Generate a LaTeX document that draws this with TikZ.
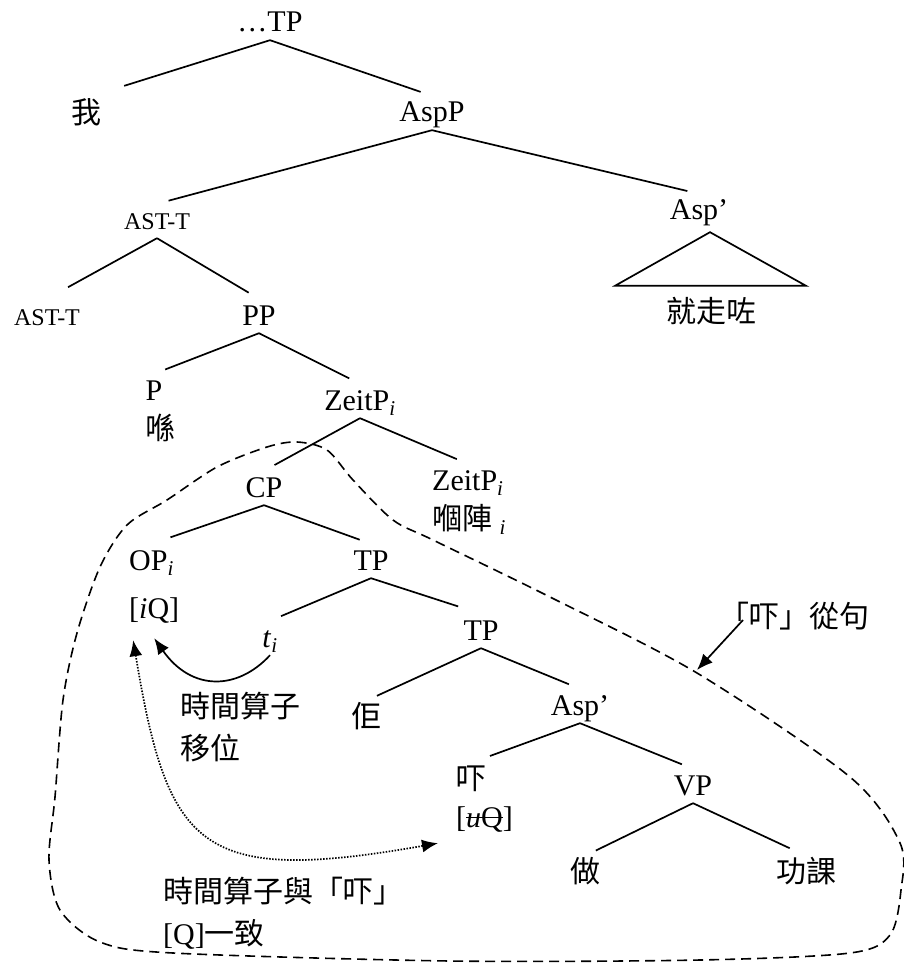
\documentclass[tikz,border=0pt]{standalone}
\usepackage{fontspec}
\setmainfont{Liberation Serif}
\newfontfamily\cjk{Noto Sans CJK TC}
\usetikzlibrary{arrows.meta}
\newcommand{\zh}[1]{{\cjk #1}}
\newsavebox{\strikebox}
\newcommand{\strikeq}[1]{\sbox{\strikebox}{#1}\rlap{\rule[0.3em]{\wd\strikebox}{1.5pt}}\usebox{\strikebox}}

\begin{document}
\begin{tikzpicture}[x=1pt,y=-1pt,>={Latex[length=16pt,width=13pt]},
	lab/.style={inner sep=0pt, text height=26pt, text depth=8pt, anchor=base, font=\fontsize{30}{42}\selectfont},
	sml/.style={lab, font=\fontsize{24}{30}\selectfont},
	note/.style={inner sep=0pt, align=left, anchor=base west, font=\fontsize{30}{42}\selectfont},
	branch/.style={line width=1.7pt, shorten >=12pt},
	boundary/.style={line width=1.6pt, dash pattern=on 10pt off 6pt}]
	\useasboundingbox (0,0) rectangle (903,965);
	%Nodi dell'albero
	\node[lab] (tp) at (270,32) {…TP};
	\node[lab] (wo) at (86,124) {\zh{我}};
	\node[lab] (aspp) at (432,122) {AspP};
	\node[sml] (astA) at (157,230) {AST-T};
	\node[lab] (aspA) at (699,220) {Asp’};
	\node[sml] (astB) at (47,325) {AST-T};
	\node[lab] (pp) at (259,325) {PP};
	\node[lab] (jz) at (711,322) {\zh{就走咗}};
	\node[lab] (p) at (154,400) {P};
	\node[lab] (hai) at (160,439) {\zh{喺}};
	\node[lab] (zA) at (360,410) {ZeitP\textsubscript{\textit{i}}};
	\node[lab] (cp) at (264,497) {CP};
	\node[lab, anchor=base west] (zB) at (432,490) {ZeitP\textsubscript{\textit{i}}};
	\node[lab, anchor=base west] (go) at (432,529) {\zh{嗰陣} \textsubscript{\textit{i}}};
	\node[lab, anchor=base west] (op) at (129,570) {OP\textsubscript{\textit{i}}};
	\node[lab, anchor=base west] (iq) at (129,618) {[\textit{i}Q]};
	\node[lab] (tpA) at (371,570) {TP};
	\node[lab] (ti) at (270,647) {\textit{t}\textsubscript{\textit{i}}};
	\node[lab] (tpB) at (481,640) {TP};
	\node[lab] (koei) at (366,727) {\zh{佢}};
	\node[lab] (aspB) at (580,715) {Asp’};
	\node[lab, anchor=base west] (ha) at (456,789) {\zh{吓}};
	\node[lab, anchor=base west] (uq) at (456,827) {[\strikeq{\textit{u}Q}]};
	\node[lab] (vp) at (693,795) {VP};
	\node[lab] (zou) at (585,882) {\zh{做}};
	\node[lab] (gk) at (806,882) {\zh{功課}};
	%Rami
	\draw[branch, shorten >=40pt] (tp.south) -- (wo.north);
	\draw[branch] (tp.south) -- (aspp.north);
	\draw[branch] (aspp.south) -- (astA.north);
	\draw[branch] (aspp.south) -- (aspA.north);
	\draw[branch, shorten >=24pt] (astA.south) -- (astB.north);
	\draw[branch] (astA.south) -- (pp.north);
	\draw[line width=1.7pt] ([xshift=11pt,yshift=-4pt]aspA.south) -- ([xshift=-96pt,yshift=10pt]jz.north) -- ([xshift=95pt,yshift=10pt]jz.north) -- cycle;
	\draw[branch] (pp.south) -- (p.north);
	\draw[branch] (pp.south) -- (zA.north);
	\draw[branch] (zA.south) -- (cp.north);
	\draw[branch] (zA.south) -- (zB.north);
	\draw[branch, shorten >=20pt] (cp.south) -- (op.north);
	\draw[branch] (cp.south) -- (tpA.north);
	\draw[branch] (tpA.south) -- (ti.north);
	\draw[branch, shorten >=24pt] (tpA.south) -- (tpB.north);
	\draw[branch] (tpB.south) -- (koei.north);
	\draw[branch] (tpB.south) -- (aspB.north);
	\draw[branch, shorten >=20pt] (aspB.south) -- (ha.north);
	\draw[branch] (aspB.south) -- (vp.north);
	\draw[branch] (vp.south) -- (zou.north);
	\draw[branch, shorten >=18pt] (vp.south) -- (gk.north);
	%Movimento e accordo
	\node[note] (move) at (180,759) {\zh{時間算子}\\\zh{移位}};
	\node[note] (agree) at (163,944) {\zh{時間算子與「吓」}\\{[Q]}\zh{一致}};
	\draw[->, line width=1.7pt] (ti.south) .. controls (238,690) and (192,692) .. ([yshift=-12pt]iq.south);
	\draw[<->, line width=1.7pt, dash pattern=on 1.5pt off 1.5pt] ([xshift=-21pt,yshift=-14pt]iq.south) .. controls (168,850) and (200,885) .. ([xshift=-18pt,yshift=-8pt]uq.south west);
	%Frase del "吓"
	\draw[boundary] plot[smooth cycle] coordinates {(127,525) (167,500) (217,467) (267,447) (297,442) (327,450) (353,480) (393,520) (433,540) (550,597) (697,673) (850,777) (900,843) (901,890) (890,935) (850,953) (700,960) (450,961) (173,953) (100,942) (60,910) (49,860) (55,797) (63,700) (77,633) (100,567)};
	\node[note] (clause) at (719,627) {\zh{「吓」從句}};
	\coordinate (hit) at (697,670);
	\draw[->, line width=1.7pt] ([xshift=24pt,yshift=7pt]clause.base west) -- (hit);
\end{tikzpicture}
\end{document}
